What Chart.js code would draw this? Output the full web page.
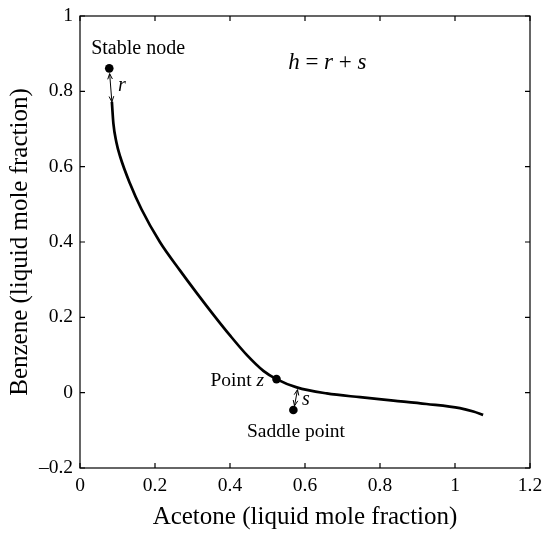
<!DOCTYPE html>
<html>
<head>
<meta charset="utf-8">
<script src="https://cdn.jsdelivr.net/npm/chart.js@4.4.0/dist/chart.umd.min.js"></script>
<style>
  html, body { margin: 0; padding: 0; background: #fff; }
  #wrap { width: 544px; height: 534px; }
</style>
</head>
<body>
<div id="wrap"><canvas id="chart"></canvas></div>
<script>
// Distillation boundary curve (acetone / benzene)
const curveX = [0.085, 0.089, 0.097, 0.107, 0.133, 0.164, 0.213, 0.267, 0.311, 0.355, 0.400, 0.444, 0.489, 0.524, 0.578, 0.658, 0.747, 0.836, 0.924, 1.013, 1.049, 1.075];
const curveY = [0.772, 0.715, 0.665, 0.627, 0.556, 0.487, 0.400, 0.324, 0.265, 0.208, 0.152, 0.101, 0.058, 0.036, 0.014, -0.002, -0.012, -0.021, -0.030, -0.041, -0.050, -0.059];

// Marked points
const nodeNames = ['Stable node', 'Point z', 'Saddle point'];
const nodeX = [0.078, 0.524, 0.569];
const nodeY = [0.861, 0.036, -0.046];

// Distance arrows r and s
const rArrowX = [0.079, 0.085];
const rArrowY = [0.847, 0.772];
const sArrowX = [0.572, 0.580];
const sArrowY = [-0.035, 0.008];

// Axis ticks
const xTicks = [0, 0.2, 0.4, 0.6, 0.8, 1, 1.2];
const xTickLabels = ['0', '0.2', '0.4', '0.6', '0.8', '1', '1.2'];
const yTicks = [-0.2, 0, 0.2, 0.4, 0.6, 0.8, 1];
const yTickLabels = ['\u20130.2', '0', '0.2', '0.4', '0.6', '0.8', '1'];

const SERIF = "'Liberation Serif', 'DejaVu Serif', serif";

function toPoints(xs, ys) {
    return xs.map((x, i) => ({ x: x, y: ys[i] }));
}

// text labels placed in data coordinates; parts are [text, italic]
const notes = [
    { x: 0.155, y: 0.912, align: 'center', size: 20, parts: [['Stable node', false]] },
    { x: 0.101, y: 0.814, align: 'left', size: 20, parts: [['r', true]] },
    { x: 0.491, y: 0.031, align: 'right', size: 19.5, parts: [['Point ', false], ['z', true]] },
    { x: 0.592, y: -0.019, align: 'left', size: 20, parts: [['s', true]] },
    { x: 0.576, y: -0.104, align: 'center', size: 19.5, parts: [['Saddle point', false]] },
    { x: 0.555, y: 0.875, align: 'left', size: 23, parts: [['h', true], [' = ', false], ['r', true], [' + ', false], ['s', true]] }
];

// box frame with inward ticks on all four sides
const framePlugin = {
    id: 'frame',
    afterDraw(chart) {
        const { ctx, chartArea: a, scales } = chart;
        const len = 5;
        ctx.save();
        ctx.strokeStyle = '#000';
        ctx.lineWidth = 1.2;
        ctx.strokeRect(a.left, a.top, a.right - a.left, a.bottom - a.top);
        ctx.beginPath();
        xTicks.forEach(v => {
            const px = scales.x.getPixelForValue(v);
            ctx.moveTo(px, a.bottom); ctx.lineTo(px, a.bottom - len);
            ctx.moveTo(px, a.top); ctx.lineTo(px, a.top + len);
        });
        yTicks.forEach(v => {
            const py = scales.y.getPixelForValue(v);
            ctx.moveTo(a.left, py); ctx.lineTo(a.left + len, py);
            ctx.moveTo(a.right, py); ctx.lineTo(a.right - len, py);
        });
        ctx.stroke();
        ctx.restore();
    }
};

function arrowHead(ctx, x0, y0, x1, y1) {
    const ang = Math.atan2(y1 - y0, x1 - x0);
    const L = 6, W = 0.4;
    ctx.beginPath();
    ctx.moveTo(x1 - L * Math.cos(ang - W), y1 - L * Math.sin(ang - W));
    ctx.lineTo(x1, y1);
    ctx.lineTo(x1 - L * Math.cos(ang + W), y1 - L * Math.sin(ang + W));
    ctx.stroke();
}

const annotatePlugin = {
    id: 'annotate',
    afterDatasetsDraw(chart) {
        const { ctx, scales } = chart;
        ctx.save();
        ctx.strokeStyle = '#000';
        ctx.lineWidth = 1;
        chart.data.datasets.forEach((ds, i) => {
            if (!ds.arrows) return;
            const pts = chart.getDatasetMeta(i).data;
            const a = pts[0], b = pts[pts.length - 1];
            arrowHead(ctx, a.x, a.y, b.x, b.y);
            arrowHead(ctx, b.x, b.y, a.x, a.y);
        });
        ctx.fillStyle = '#000';
        ctx.textBaseline = 'middle';
        notes.forEach(n => {
            const fonts = n.parts.map(p => (p[1] ? 'italic ' : '') + n.size + 'px ' + SERIF);
            const widths = n.parts.map((p, k) => { ctx.font = fonts[k]; return ctx.measureText(p[0]).width; });
            const total = widths.reduce((s, w) => s + w, 0);
            let x = scales.x.getPixelForValue(n.x);
            const y = scales.y.getPixelForValue(n.y);
            if (n.align === 'center') x -= total / 2;
            if (n.align === 'right') x -= total;
            ctx.textAlign = 'left';
            n.parts.forEach((p, k) => {
                ctx.font = fonts[k];
                ctx.fillText(p[0], x, y);
                x += widths[k];
            });
        });
        ctx.restore();
    }
};

new Chart(document.getElementById('chart'), {
    type: 'scatter',
    data: {
        datasets: [
            {
                label: 'boundary',
                data: toPoints(curveX, curveY),
                showLine: true,
                borderColor: '#000',
                borderWidth: 2.7,
                pointRadius: 0,
                cubicInterpolationMode: 'monotone'
            },
            {
                label: 'r',
                data: toPoints(rArrowX, rArrowY),
                showLine: true,
                borderColor: '#000',
                borderWidth: 1,
                pointRadius: 0,
                arrows: true
            },
            {
                label: 's',
                data: toPoints(sArrowX, sArrowY),
                showLine: true,
                borderColor: '#000',
                borderWidth: 1,
                pointRadius: 0,
                arrows: true
            },
            {
                label: 'nodes',
                data: toPoints(nodeX, nodeY),
                pointRadius: 4.3,
                pointBackgroundColor: '#000',
                pointBorderWidth: 0
            }
        ]
    },
    options: {
        responsive: true,
        maintainAspectRatio: false,
        animation: false,
        layout: { padding: { top: 16, right: 14, left: 0, bottom: 0 } },
        plugins: {
            legend: { display: false },
            tooltip: { enabled: false }
        },
        scales: {
            x: {
                type: 'linear',
                min: 0,
                max: 1.2,
                afterBuildTicks: s => { s.ticks = xTicks.map(v => ({ value: v })); },
                afterFit: s => { s.height = 66; s.paddingLeft = 0; s.paddingRight = 0; },
                ticks: {
                    autoSkip: false,
                    maxRotation: 0,
                    padding: 6,
                    color: '#000',
                    font: { family: SERIF, size: 19.5 },
                    callback: v => xTickLabels[xTicks.indexOf(v)]
                },
                grid: { drawOnChartArea: false, drawTicks: false },
                border: { display: false },
                title: {
                    display: true,
                    text: 'Acetone (liquid mole fraction)',
                    color: '#000',
                    font: { family: SERIF, size: 25 },
                    padding: { top: 0, bottom: 2 }
                }
            },
            y: {
                type: 'linear',
                min: -0.2,
                max: 1,
                afterBuildTicks: s => { s.ticks = yTicks.map(v => ({ value: v })); },
                afterFit: s => { s.width = 80; s.paddingTop = 0; s.paddingBottom = 0; },
                ticks: {
                    autoSkip: false,
                    padding: 7,
                    color: '#000',
                    font: { family: SERIF, size: 19.5 },
                    callback: v => yTickLabels[yTicks.indexOf(v)]
                },
                grid: { drawOnChartArea: false, drawTicks: false },
                border: { display: false },
                title: {
                    display: true,
                    text: 'Benzene (liquid mole fraction)',
                    color: '#000',
                    font: { family: SERIF, size: 25 },
                    padding: { top: 5, bottom: 0 }
                }
            }
        }
    },
    plugins: [framePlugin, annotatePlugin]
});
</script>
</body>
</html>
